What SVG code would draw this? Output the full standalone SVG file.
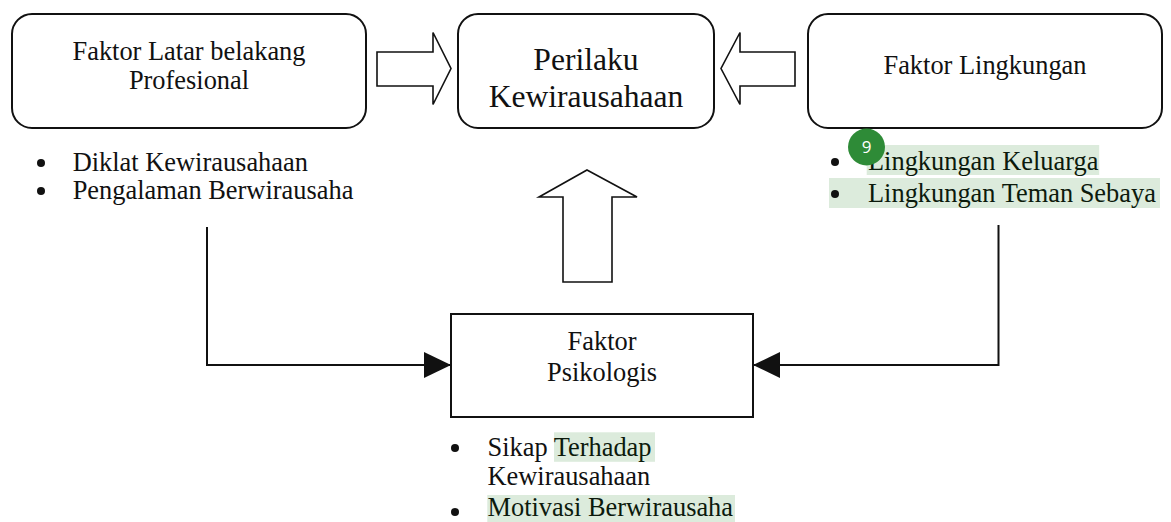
<svg xmlns="http://www.w3.org/2000/svg" width="1171" height="522" viewBox="0 0 1171 522">
  <style>
    .box { fill: #ffffff; stroke: #111111; stroke-width: 2; }
    .blk { fill: #ffffff; stroke: #111111; stroke-width: 1.6; stroke-linejoin: miter; }
    .conn { fill: none; stroke: #111111; stroke-width: 2; }
    .t { font-family: "Liberation Serif", "Times New Roman", serif; font-size: 26.4px; fill: #111111; }
    .tc { text-anchor: middle; }
    .big { font-size: 31.6px; }
    .bul { fill: #111111; }
    .hl { fill: #dcebdc; }
    .hlt { fill: #0c1a0c; }
  </style>
  <defs>
    <marker id="tri" markerUnits="userSpaceOnUse" viewBox="0 0 27 26" markerWidth="27" markerHeight="26" refX="27" refY="13" orient="auto">
      <path d="M0,0 L27,13 L0,26 Z" fill="#111111"/>
    </marker>
  </defs>

  <g id="connectors">
    <path class="conn" d="M207,227 V365 H451" marker-end="url(#tri)"/>
    <path class="conn" d="M998.5,225 V365 H753" marker-end="url(#tri)"/>
    <polygon class="blk" points="377,52 433,52 433,32.5 451,68.5 433,104.5 433,86 377,86"/>
    <polygon class="blk" points="795,52 740,52 740,32.5 721,68.5 740,104.5 740,86 795,86"/>
    <polygon class="blk" points="587,170 637,197 612,197 612,282 563,282 563,197 539,197"/>
  </g>

  <g id="node-latar-belakang">
    <rect class="box" x="12" y="14" width="354" height="114" rx="20" ry="20"/>
    <text class="t tc" x="189" y="60">Faktor Latar belakang</text>
    <text class="t tc" x="189" y="89">Profesional</text>
    <circle class="bul" cx="41" cy="163" r="4"/>
    <text class="t" x="72.7" y="171">Diklat Kewirausahaan</text>
    <circle class="bul" cx="41" cy="191" r="4"/>
    <text class="t" x="72.7" y="199">Pengalaman Berwirausaha</text>
  </g>

  <g id="node-perilaku">
    <rect class="box" x="458" y="14" width="256" height="114" rx="20" ry="20"/>
    <text class="t tc big" x="586" y="70">Perilaku</text>
    <text class="t tc big" x="586" y="107">Kewirausahaan</text>
  </g>

  <g id="node-lingkungan">
    <rect class="box" x="808" y="14" width="354" height="114" rx="20" ry="20"/>
    <text class="t tc" x="985" y="74">Faktor Lingkungan</text>
    <rect class="hl" x="866.7" y="145" width="232.5" height="30"/>
    <rect class="hl" x="829" y="178" width="331" height="30"/>
    <circle class="bul" cx="835" cy="162" r="4"/>
    <text class="t hlt" x="868" y="170">Lingkungan Keluarga</text>
    <circle class="bul" cx="835" cy="194" r="4"/>
    <text class="t hlt" x="868" y="201.5">Lingkungan Teman Sebaya</text>
    <circle cx="866.5" cy="147" r="18.5" fill="#2e8b37"/>
    <text x="866.5" y="153" text-anchor="middle" font-family="'Open Sans', 'Noto Sans', sans-serif" font-size="17" fill="#ffffff">9</text>
  </g>

  <g id="node-psikologis">
    <rect class="box" x="451" y="314" width="302" height="103"/>
    <text class="t tc" x="602" y="350">Faktor</text>
    <text class="t tc" x="602" y="381">Psikologis</text>
    <rect class="hl" x="554" y="432.3" width="101" height="29.5"/>
    <rect class="hl" x="487.3" y="495" width="247.7" height="27"/>
    <circle class="bul" cx="455" cy="448" r="4"/>
    <text class="t" x="487.5" y="456">Sikap <tspan class="hlt">Terhadap</tspan></text>
    <text class="t" x="487.5" y="485">Kewirausahaan</text>
    <circle class="bul" cx="455" cy="512" r="4"/>
    <text class="t hlt" x="487.5" y="516">Motivasi Berwirausaha</text>
  </g>
</svg>
